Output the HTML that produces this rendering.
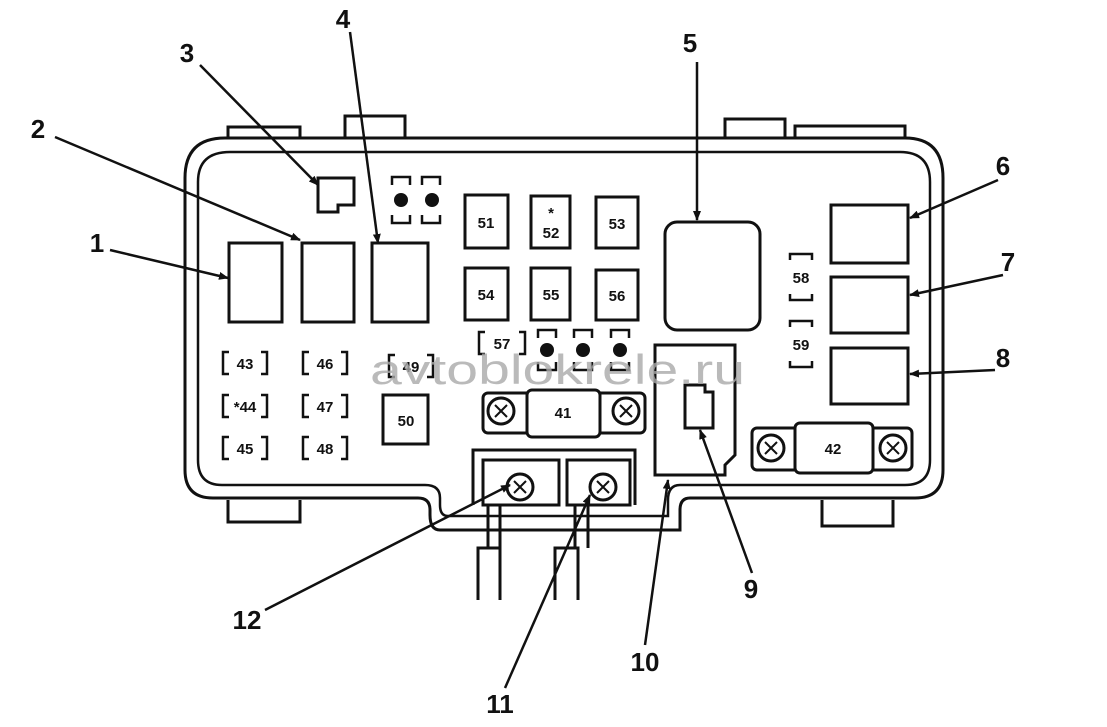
<!DOCTYPE html><html><head><style>html,body{margin:0;background:#fff}svg{display:block}text{font-family:"Liberation Sans",sans-serif;font-weight:bold}text.n{font-weight:normal}</style></head><body>
<svg width="1107" height="727" viewBox="0 0 1107 727" xmlns="http://www.w3.org/2000/svg">
<defs><marker id="a" markerWidth="10" markerHeight="8" refX="9" refY="4" orient="auto" markerUnits="userSpaceOnUse"><path d="M0,0 L10,4 L0,8z" fill="#111"/></marker></defs>
<g fill="none" stroke="#111" stroke-width="3">
<path d="M228,138 V127 H300 V138 M345,138 V116 H405 V138 M725,138 V119 H785 V138 M795,138 V126 H905 V138"/>
<path d="M228,500 V522 H300 V500 M822,500 V526 H893 V500"/>
<path d="M225,138 H905 Q943,138 943,178 V470 Q943,498 915,498 H690 Q680,498 680,510 V530 H440 Q430,530 430,515 V510 Q430,498 418,498 H213 Q185,498 185,470 V178 Q185,138 225,138 Z"/>
<path d="M230,152 H900 Q930,152 930,182 V460 Q930,485 905,485 H680 Q668,485 668,500 V516 H448 Q440,516 440,505 V498 Q440,485 425,485 H222 Q198,485 198,460 V182 Q198,152 230,152 Z" stroke-width="2.5"/>
<rect x="229" y="243" width="53" height="79"/><rect x="302" y="243" width="52" height="79"/><rect x="372" y="243" width="56" height="79"/>
<path d="M318,212 V178 H354 V205 H338 V212 Z"/>
<rect x="665" y="222" width="95" height="108" rx="12"/>
<rect x="831" y="205" width="77" height="58"/><rect x="831" y="277" width="77" height="56"/><rect x="831" y="348" width="77" height="56"/>
<rect x="465" y="195" width="43" height="53"/><rect x="531" y="196" width="39" height="52"/><rect x="596" y="197" width="42" height="51"/>
<rect x="465" y="268" width="43" height="52"/><rect x="531" y="268" width="39" height="52"/><rect x="596" y="270" width="42" height="50"/>
<rect x="383" y="395" width="45" height="49"/>
<g stroke-width="2.5">
<path d="M229,352 h-6 v22 h6 M261,352 h6 v22 h-6"/><path d="M229,395 h-6 v22 h6 M261,395 h6 v22 h-6"/><path d="M229,437 h-6 v22 h6 M261,437 h6 v22 h-6"/>
<path d="M309,352 h-6 v22 h6 M341,352 h6 v22 h-6"/><path d="M309,395 h-6 v22 h6 M341,395 h6 v22 h-6"/><path d="M309,437 h-6 v22 h6 M341,437 h6 v22 h-6"/>
<path d="M395,355 h-6 v22 h6 M427,355 h6 v22 h-6"/><path d="M485,332 h-6 v22 h6 M519,332 h6 v22 h-6"/>
<path d="M790,260 v-6 h22 v6 M790,294 v6 h22 v-6"/><path d="M790,327 v-6 h22 v6 M790,361 v6 h22 v-6"/>
<path d="M392,185 v-8 h18 v8 M392,215 v8 h18 v-8 M422,185 v-8 h18 v8 M422,215 v8 h18 v-8"/>
<path d="M538,338 v-8 h18 v8 M538,362 v8 h18 v-8 M574,338 v-8 h18 v8 M574,362 v8 h18 v-8 M611,338 v-8 h18 v8 M611,362 v8 h18 v-8"/>
</g>
<rect x="483" y="393" width="162" height="40" rx="5"/><rect x="527" y="390" width="73" height="47" rx="5" fill="#fff"/>
<circle cx="501" cy="411" r="13"/><circle cx="626" cy="411" r="13"/>
<rect x="752" y="428" width="160" height="42" rx="5"/><rect x="795" y="423" width="78" height="50" rx="5" fill="#fff"/>
<circle cx="771" cy="448" r="13"/><circle cx="893" cy="448" r="13"/>
<path d="M495,405 l12,12 M507,405 l-12,12 M620,405 l12,12 M632,405 l-12,12 M765,442 l12,12 M777,442 l-12,12 M887,442 l12,12 M899,442 l-12,12" stroke-width="2"/>
<path d="M655,345 H735 V455 L725,465 V475 H655 Z"/>
<path d="M685,385 H705 V392 H713 V428 H685 Z"/>
<path d="M473,505 V450 H635 V505"/>
<rect x="483" y="460" width="76" height="45"/><rect x="567" y="460" width="63" height="45"/>
<circle cx="520" cy="487" r="13"/><circle cx="603" cy="487" r="13"/>
<path d="M514,481 l12,12 M526,481 l-12,12 M597,481 l12,12 M609,481 l-12,12" stroke-width="2"/>
<path d="M488,505 V548 M500,505 V548 M575,505 V548 M588,505 V548"/>
<path d="M478,600 V548 H500 V600 M555,600 V548 H578 V600"/>
</g>
<g fill="#111"><circle cx="401" cy="200" r="7"/><circle cx="432" cy="200" r="7"/><circle cx="547" cy="350" r="7"/><circle cx="583" cy="350" r="7"/><circle cx="620" cy="350" r="7"/></g>
<g font-size="15" fill="#111" text-anchor="middle">
<text x="486" y="228">51</text><text x="551" y="218">*</text><text x="551" y="238">52</text><text x="617" y="229">53</text>
<text x="486" y="300">54</text><text x="551" y="300">55</text><text x="617" y="301">56</text><text x="406" y="426">50</text>
<text x="245" y="369">43</text><text x="245" y="412">*44</text><text x="245" y="454">45</text>
<text x="325" y="369">46</text><text x="325" y="412">47</text><text x="325" y="454">48</text>
<text x="411" y="372">49</text><text x="502" y="349">57</text><text x="801" y="283">58</text><text x="801" y="350">59</text>
<text x="563" y="418">41</text><text x="833" y="454">42</text>
</g>
<text class="n" x="370" y="384" font-size="42" fill="#aaa" opacity="0.8" textLength="375" lengthAdjust="spacingAndGlyphs">avtoblokrele.ru</text>
<g stroke="#111" stroke-width="2.5" marker-end="url(#a)">
<line x1="110" y1="250" x2="228" y2="278"/><line x1="55" y1="137" x2="300" y2="240"/><line x1="200" y1="65" x2="318" y2="185"/>
<line x1="350" y1="32" x2="378" y2="243"/><line x1="697" y1="62" x2="697" y2="220"/><line x1="998" y1="180" x2="910" y2="218"/>
<line x1="1003" y1="275" x2="910" y2="295"/><line x1="995" y1="370" x2="910" y2="374"/><line x1="752" y1="573" x2="700" y2="430"/>
<line x1="645" y1="645" x2="668" y2="480"/><line x1="505" y1="688" x2="590" y2="495"/><line x1="265" y1="610" x2="510" y2="485"/>
</g>
<g font-size="26" fill="#111" text-anchor="middle">
<text x="97" y="252">1</text><text x="38" y="138">2</text><text x="187" y="62">3</text><text x="343" y="28">4</text><text x="690" y="52">5</text>
<text x="1003" y="175">6</text><text x="1008" y="271">7</text><text x="1003" y="367">8</text><text x="751" y="598">9</text>
<text x="645" y="671">10</text><text x="500" y="713">11</text><text x="247" y="629">12</text>
</g>
</svg></body></html>
